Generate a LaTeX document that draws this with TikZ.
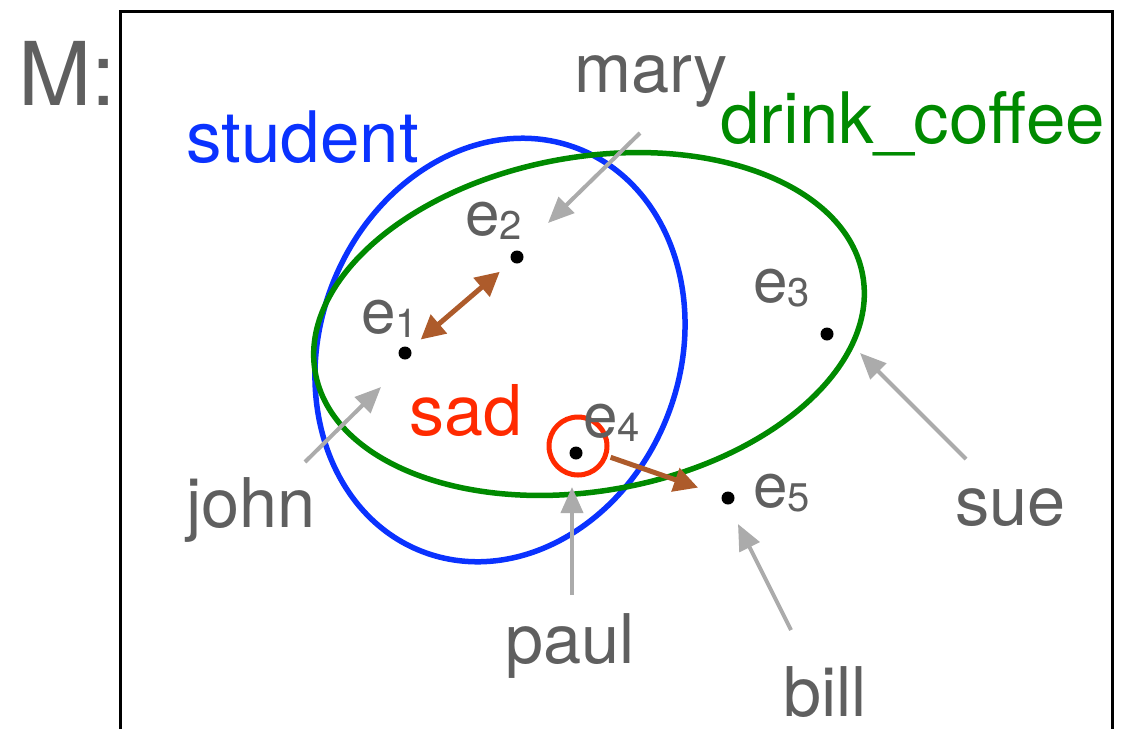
\documentclass[tikz,border=0pt]{standalone}
\usepackage{fontspec}
\setmainfont{TeX Gyre Heros}
\usetikzlibrary{arrows.meta}
\definecolor{txtgray}{HTML}{5F5F5F}
\definecolor{arrgray}{HTML}{ABABAB}
\definecolor{setblue}{HTML}{0A32FF}
\definecolor{setgreen}{HTML}{008A00}
\definecolor{setred}{HTML}{FF2A00}
\definecolor{relbrown}{HTML}{AD5B2B}
\newcommand\esub[1]{\raisebox{-4pt}{\fontsize{40}{40}\selectfont #1}}
\tikzset{btip/.tip={Triangle[length=24pt,width=24pt]},
         gtip/.tip={Triangle[length=26pt,width=22pt]}}
\begin{document}
\begin{tikzpicture}[x=1pt,y=-1pt,
  lbl/.style={anchor=base west, inner sep=0pt, text=txtgray, font=\fontsize{68.5}{68.5}\selectfont},
  elbl/.style={anchor=base west, inner sep=0pt, text=txtgray, font=\fontsize{62}{62}\selectfont},
  dot/.style={circle, fill=black, inner sep=0pt, minimum size=13pt},
  ga/.style={draw=arrgray, line width=4pt, -gtip},
  ba/.style={draw=relbrown, line width=5pt},
  setline/.style={line width=5.5pt}
]
\useasboundingbox (0,0) rectangle (1132,729);
% frame
\draw[line width=3pt] (120,729) -- (120,11) -- (1112,11) -- (1112,729);
\node[anchor=base west, inner sep=0pt, text=txtgray, font=\fontsize{88}{88}\selectfont] (M) at (18,105) {M:};

% sets
\draw[setline, setblue, rotate around={-21:(500,350)}] (500,350) ellipse (180 and 216);
\draw[setline, setgreen, rotate around={10:(589,324)}] (589,324) ellipse (278 and 167);

\node[anchor=base west, inner sep=0pt, text=setblue, font=\fontsize{71}{71}\selectfont] (student) at (186,162) {student};
\node[anchor=base west, inner sep=0pt, text=setgreen, font=\fontsize{71}{71}\selectfont] (coffee) at (720,143) {drink\_coffee};
\node[anchor=base west, inner sep=0pt, text=setred, font=\fontsize{70}{70}\selectfont] (sad) at (409,435) {sad};

% red circle for sad(e4)
\node[draw=setred, line width=5pt, circle, minimum size=58pt, inner sep=0pt] (sadc) at (578,446) {};

% entities
\node[dot] (p1) at (405,353) {};
\node[dot] (p2) at (517,257) {};
\node[dot] (p3) at (827,334) {};
\node[dot] (p4) at (576,453) {};
\node[dot] (p5) at (728,498) {};

\node[elbl] (l1) at (361,333) {e\esub{1}};
\node[elbl] (l2) at (465,235) {e\esub{2}};
\node[elbl] (l3) at (753,302) {e\esub{3}};
\node[elbl] (l4) at (583,437) {e\esub{4}};
\node[elbl] (l5) at (753,507) {e\esub{5}};

% relations
\draw[ba, btip-btip, shorten <=14pt, shorten >=16pt] (p1) -- (p2);
\draw[ba, -btip, shorten <=3pt, shorten >=25pt] (sadc) -- (p5);

% names
\node[lbl] (mary) at (574,92) {mary};
\node[lbl] (john) at (186,527) {john};
\node[lbl] (sue) at (955,525) {sue};
\node[lbl] (paul) at (505,663) {paul};
\node[lbl] (bill) at (783,716) {bill};

\coordinate (maryA) at (640,133);  \coordinate (maryT) at (548,223);
\coordinate (johnA) at (305,462);  \coordinate (johnT) at (381,387);
\coordinate (sueA)  at (966,459);  \coordinate (sueT)  at (860,353);
\coordinate (paulA) at (572,595);  \coordinate (paulT) at (572,487);
\coordinate (billA) at (791,630);  \coordinate (billT) at (738,524);

\draw[ga] (maryA) -- (maryT);
\draw[ga] (johnA) -- (johnT);
\draw[ga] (sueA) -- (sueT);
\draw[ga] (paulA) -- (paulT);
\draw[ga] (billA) -- (billT);
\end{tikzpicture}
\end{document}
